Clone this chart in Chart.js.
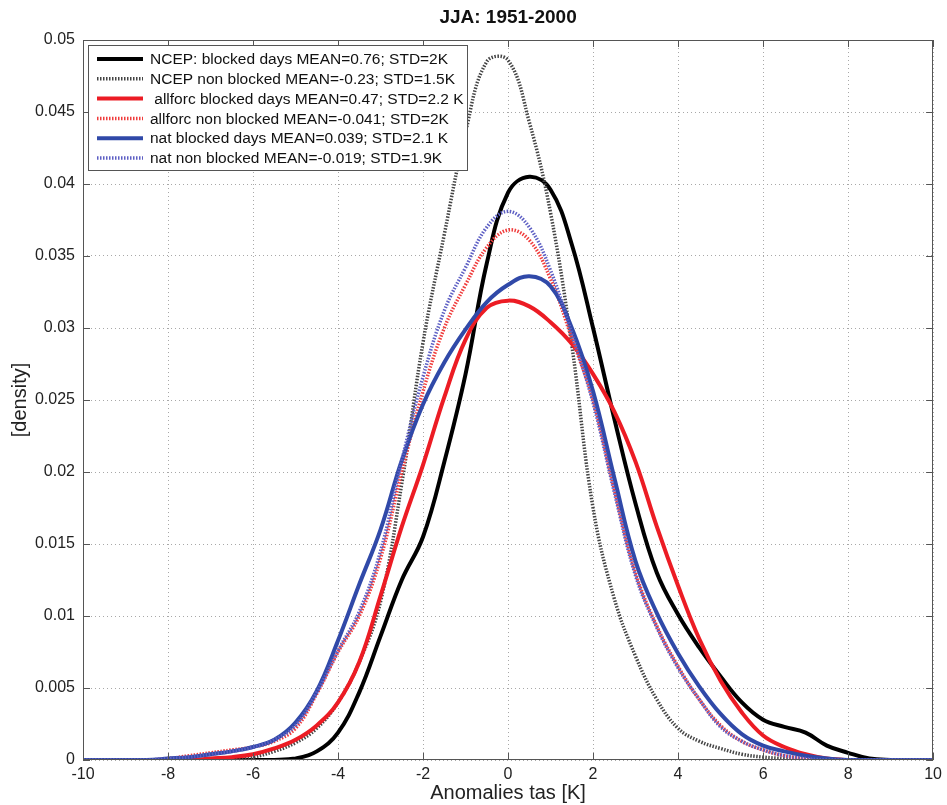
<!DOCTYPE html>
<html>
<head>
<meta charset="utf-8">
<script src="https://cdn.jsdelivr.net/npm/chart.js@4.4.1/dist/chart.umd.min.js"></script>
<style>
  html, body { margin: 0; padding: 0; background: #fff; }
  canvas { display: block; }
</style>
</head>
<body>
<canvas id="pdfChart" width="947" height="805"></canvas>
<script>
// temperature anomaly grid (K)
const xs = [-10, -9.5, -9, -8.5, -8, -7.5, -7, -6.5, -6, -5.5, -5, -4.5, -4, -3.5, -3, -2.5, -2, -1.5, -1, -0.5,
            0, 0.5, 1, 1.5, 2, 2.5, 3, 3.5, 4, 4.5, 5, 5.5, 6, 6.5, 7, 7.5, 8, 8.5, 9, 9.5, 10];

const ncepBlocked = [0, 0, 0, 0, 0, 0, 0, 0, 0, 0,
    0.0001, 0.0006, 0.0019, 0.0047, 0.0086, 0.0125, 0.0155, 0.0207, 0.0268, 0.0345,
    0.0394, 0.0405, 0.0396, 0.0358, 0.0300, 0.0237, 0.0178, 0.0130, 0.0101, 0.0078,
    0.0058, 0.0040, 0.0028, 0.0023, 0.0019, 0.0010, 0.0005, 0.0001, 0, 0, 0];
const ncepNonBlocked = [0, 0, 0, 0, 0, 0, 0, 0,
    0.0002, 0.0006, 0.0012, 0.0022, 0.0040, 0.0068, 0.0110, 0.0192, 0.0290, 0.0365, 0.0436, 0.0485,
    0.0486, 0.0443, 0.0380, 0.0288, 0.0175, 0.0112, 0.0072, 0.0042, 0.0022, 0.0013,
    0.0008, 0.0004, 0.0002, 0.0001, 0, 0, 0, 0, 0, 0, 0];
const allforcBlocked = [0, 0, 0, 0, 0, 0,
    0.0001, 0.0002, 0.0004, 0.0008, 0.0014, 0.0024, 0.0040, 0.0068, 0.0114, 0.0162, 0.0205, 0.0252, 0.0292, 0.0314,
    0.0319, 0.0315, 0.0304, 0.0289, 0.0268, 0.0242, 0.0207, 0.0162, 0.0121, 0.0084,
    0.0055, 0.0033, 0.0017, 0.0009, 0.0004, 0.0001, 0, 0, 0, 0, 0];
const allforcNonBlocked = [0, 0, 0, 0,
    0.0001, 0.0003, 0.0005, 0.0007, 0.0009, 0.0013, 0.0022, 0.0046, 0.0075, 0.0100, 0.0140, 0.0200, 0.0256, 0.0300, 0.0330, 0.0356,
    0.0368, 0.0361, 0.0334, 0.0293, 0.0250, 0.0188, 0.0130, 0.0093, 0.0065, 0.0042,
    0.0024, 0.0013, 0.0007, 0.0003, 0.0001, 0, 0, 0, 0, 0, 0];
const natBlocked = [0, 0, 0, 0,
    0.0001, 0.0002, 0.0004, 0.0006, 0.0009, 0.0014, 0.0026, 0.0048, 0.0083, 0.0122, 0.0160, 0.0208, 0.0247, 0.0276, 0.0299, 0.0318,
    0.0330, 0.0336, 0.0329, 0.0300, 0.0256, 0.0196, 0.0138, 0.0102, 0.0074, 0.0051,
    0.0032, 0.0018, 0.0010, 0.0006, 0.0003, 0.0001, 0, 0, 0, 0, 0];
const natNonBlocked = [0, 0, 0, 0,
    0.0001, 0.0002, 0.0004, 0.0006, 0.0009, 0.0014, 0.0024, 0.0047, 0.0076, 0.0103, 0.0145, 0.0208, 0.0266, 0.0312, 0.0342, 0.0370,
    0.0381, 0.0370, 0.0340, 0.0296, 0.0248, 0.0186, 0.0128, 0.0092, 0.0064, 0.0042,
    0.0023, 0.0013, 0.0007, 0.0003, 0.0001, 0, 0, 0, 0, 0, 0];

const seriesLabels = [
    "NCEP: blocked days MEAN=0.76; STD=2K",
    "NCEP non blocked MEAN=-0.23; STD=1.5K",
    " allforc blocked days MEAN=0.47; STD=2.2 K",
    "allforc non blocked MEAN=-0.041; STD=2K",
    "nat blocked days MEAN=0.039; STD=2.1 K",
    "nat non blocked MEAN=-0.019; STD=1.9K"
];

const xTicks = [-10, -8, -6, -4, -2, 0, 2, 4, 6, 8, 10];
const yTicks = [0, 0.005, 0.01, 0.015, 0.02, 0.025, 0.03, 0.035, 0.04, 0.045, 0.05];

const FONT = "'Liberation Sans', Arial, sans-serif";

function pts(ys) {
    return xs.map((x, i) => ({ x, y: ys[i] }));
}

// Estilos das curvas (ordem igual à legenda)
const styles = [
    { data: ncepBlocked,       color: "#000000", width: 4,   dash: [] },
    { data: ncepNonBlocked,    color: "#444444", width: 3.5, dash: [1.5, 1.5] },
    { data: allforcBlocked,    color: "#ec1c24", width: 4,   dash: [] },
    { data: allforcNonBlocked, color: "#f03c3c", width: 3.5, dash: [1.5, 1.5] },
    { data: natBlocked,        color: "#3049a8", width: 4,   dash: [] },
    { data: natNonBlocked,     color: "#5d5fc4", width: 3.5, dash: [1.5, 1.5] }
];

const datasets = styles.map((s, i) => ({
    label: seriesLabels[i],
    data: pts(s.data),
    borderColor: s.color,
    borderWidth: s.width,
    borderDash: s.dash,
    pointRadius: 0,
    fill: false,
    tension: 0.4,
    order: styles.length - i   // later series drawn on top, like the original
}));

const decor = {
    id: "decor",
    beforeDraw(chart) {
        const ctx = chart.ctx;
        ctx.save();
        ctx.fillStyle = "#fff";
        ctx.fillRect(0, 0, chart.width, chart.height);
        ctx.restore();
    },
    afterDraw(chart) {
        const { ctx, chartArea: a, scales: { x, y } } = chart;
        ctx.save();

        // axes box
        ctx.strokeStyle = "#555";
        ctx.lineWidth = 1;
        ctx.setLineDash([]);
        ctx.strokeRect(Math.round(a.left) + 0.5, Math.round(a.top) + 0.5,
                       Math.round(a.width) - 1, Math.round(a.height) - 1);

        // inward tick marks
        ctx.beginPath();
        xTicks.forEach(v => {
            const px = Math.round(x.getPixelForValue(v)) + 0.5;
            ctx.moveTo(px, a.bottom); ctx.lineTo(px, a.bottom - 7);
            ctx.moveTo(px, a.top);    ctx.lineTo(px, a.top + 7);
        });
        yTicks.forEach(v => {
            const py = Math.round(y.getPixelForValue(v)) + 0.5;
            ctx.moveTo(a.left, py);  ctx.lineTo(a.left + 7, py);
            ctx.moveTo(a.right, py); ctx.lineTo(a.right - 7, py);
        });
        ctx.stroke();

        // title
        ctx.fillStyle = "#111";
        ctx.font = "bold 19px " + FONT;
        ctx.textAlign = "center";
        ctx.textBaseline = "middle";
        ctx.fillText("JJA: 1951-2000", (a.left + a.right) / 2, 18);

        // legend box
        const bx = 88, by = 45, bw = 379, bh = 125;
        ctx.fillStyle = "#fff";
        ctx.fillRect(bx, by, bw, bh);
        ctx.strokeStyle = "#555";
        ctx.strokeRect(bx + 0.5, by + 0.5, bw, bh);

        ctx.font = "15.5px " + FONT;
        ctx.textAlign = "left";
        chart.data.datasets.forEach((ds, i) => {
            const ry = 59 + i * 19.8;
            ctx.strokeStyle = ds.borderColor;
            ctx.lineWidth = ds.borderWidth;
            ctx.setLineDash(ds.borderDash);
            ctx.beginPath();
            ctx.moveTo(97, ry);
            ctx.lineTo(143, ry);
            ctx.stroke();
            ctx.setLineDash([]);
            ctx.fillStyle = "#111";
            ctx.fillText(ds.label, 150, ry + 1);
        });
        ctx.restore();
    }
};

new Chart(document.getElementById("pdfChart"), {
    type: "line",
    data: { datasets },
    plugins: [decor],
    options: {
        responsive: false,
        animation: false,
        devicePixelRatio: 1,
        layout: { padding: { top: 40, right: 10, left: 0, bottom: 0 } },
        plugins: {
            legend: { display: false },
            title: { display: false },
            tooltip: { enabled: false }
        },
        scales: {
            x: {
                type: "linear",
                min: -10,
                max: 10,
                afterBuildTicks: s => { s.ticks = xTicks.map(v => ({ value: v })); },
                afterFit: s => { s.height = 45; },
                grid: { color: "#a8a8a8", lineWidth: 1, drawTicks: false },
                border: { display: false, dash: [1, 3] },
                ticks: { padding: 5, color: "#222", font: { family: FONT, size: 16 }, maxRotation: 0 },
                title: { display: true, text: "Anomalies tas [K]", color: "#222",
                         font: { family: FONT, size: 20 }, padding: { top: 0, bottom: 0 } }
            },
            y: {
                min: 0,
                max: 0.05,
                afterBuildTicks: s => { s.ticks = yTicks.map(v => ({ value: v })); },
                afterFit: s => { s.width = 83; },
                grid: { color: "#a8a8a8", lineWidth: 1, drawTicks: false },
                border: { display: false, dash: [1, 3] },
                ticks: { padding: 8, color: "#222", font: { family: FONT, size: 16 },
                         callback: v => String(+v.toFixed(4)) },
                title: { display: true, text: "[density]", color: "#222",
                         font: { family: FONT, size: 20 }, padding: { top: 8, bottom: 0 } }
            }
        }
    }
});
</script>
</body>
</html>
